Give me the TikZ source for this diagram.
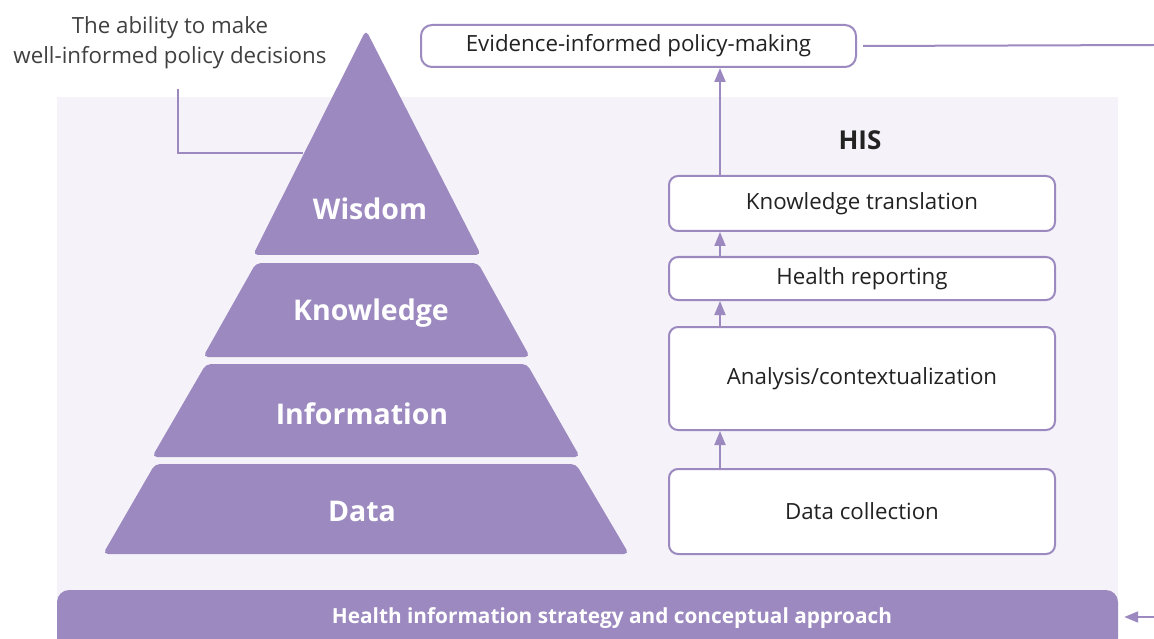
\documentclass[tikz,border=0pt]{standalone}
\usepackage{fontspec}
\setmainfont{Open Sans}
\usetikzlibrary{arrows.meta}
\definecolor{pur}{HTML}{9B89C0}
\definecolor{bgl}{HTML}{F5F3F9}
\definecolor{txt}{HTML}{222222}
\definecolor{gtxt}{HTML}{404040}
\begin{document}
\begin{tikzpicture}[x=1pt,y=-1pt,
  hisbox/.style={draw=pur,line width=2pt,fill=white,rounded corners=9pt,minimum width=386pt,
    font=\fontsize{22.3}{24}\selectfont,text=txt,inner sep=0pt},
  layer/.style={fill=pur,rounded corners=5pt},
  laytext/.style={text=white,font=\fontsize{28.5}{30}\selectfont\bfseries},
  arr/.style={draw=pur,line width=2pt,-{Triangle[width=11pt,length=14pt]}},
  pline/.style={draw=pur,line width=2pt}]
\useasboundingbox (0,0) rectangle (1154,639);
\clip (0,0) rectangle (1154,639);
% background panel
\fill[bgl] (57,97) rectangle (1118,600);
% bottom bar
\node[fill=pur,rounded corners=12pt,minimum width=1061pt,minimum height=60pt,inner sep=0pt] (bar) at (587.5,620) {};
\node[text=white,font=\fontsize{20.8}{22}\selectfont\bfseries] (bartext) at (612,618) {Health information strategy and conceptual approach};
% pyramid
\path[layer] (366,30) -- (481,255) -- (253,255) -- cycle;
\path[layer] (256,263) -- (478,263) -- (530,357) -- (203,357) -- cycle;
\path[layer] (206,364) -- (527,364) -- (580,457) -- (152,457) -- cycle;
\path[layer] (155,464) -- (576,464) -- (629,554) -- (103,554) -- cycle;
\node[laytext] (wis) at (370,209) {Wisdom};
\node[laytext] (kno) at (371,313) {Knowledge};
\node[laytext] (inf) at (362,414) {Information};
\node[laytext] (dat) at (362,511) {Data};
% callout
\node[text=gtxt,font=\fontsize{22.3}{30}\selectfont,align=center,inner sep=0pt] (ability) at (170,43) {The ability to make\\well-informed policy decisions};
\coordinate (cbend) at (178,153);
\coordinate (cend) at (303,153);
\draw[pline] (ability.south -| cbend) ++(0,20) -- (cbend) -- (cend);
% HIS boxes
\node[font=\fontsize{26}{28}\selectfont\bfseries,text=txt] (his) at (860,140) {HIS};
\node[hisbox,minimum width=435pt,minimum height=42pt,rounded corners=11pt] (ev) at (638.5,46) {Evidence-informed policy-making};
\node[hisbox,minimum height=55pt] (kt) at (862,203.5) {Knowledge translation};
\node[hisbox,minimum height=43pt] (hr) at (862,278.5) {Health reporting};
\node[hisbox,minimum height=103pt] (ac) at (862,378.5) {Analysis/contextualization};
\node[hisbox,minimum height=85pt] (dc) at (862,511.5) {Data collection};
% arrows
\draw[arr] (kt.north -| 720,0) -- (ev.south -| 720,0);
\draw[arr] (hr.north -| 720,0) -- (kt.south -| 720,0);
\draw[arr] (ac.north -| 720,0) -- (hr.south -| 720,0);
\draw[arr] (dc.north -| 720,0) -- (ac.south -| 720,0);
\coordinate (rtop) at (1154,45);
\coordinate (rbot) at (1154,617);
\draw[pline] ([xshift=6pt]ev.east) -- (rtop);
\draw[arr,shorten >=6pt] (rbot) -- (bar.east |- rbot);
\end{tikzpicture}
\end{document}
